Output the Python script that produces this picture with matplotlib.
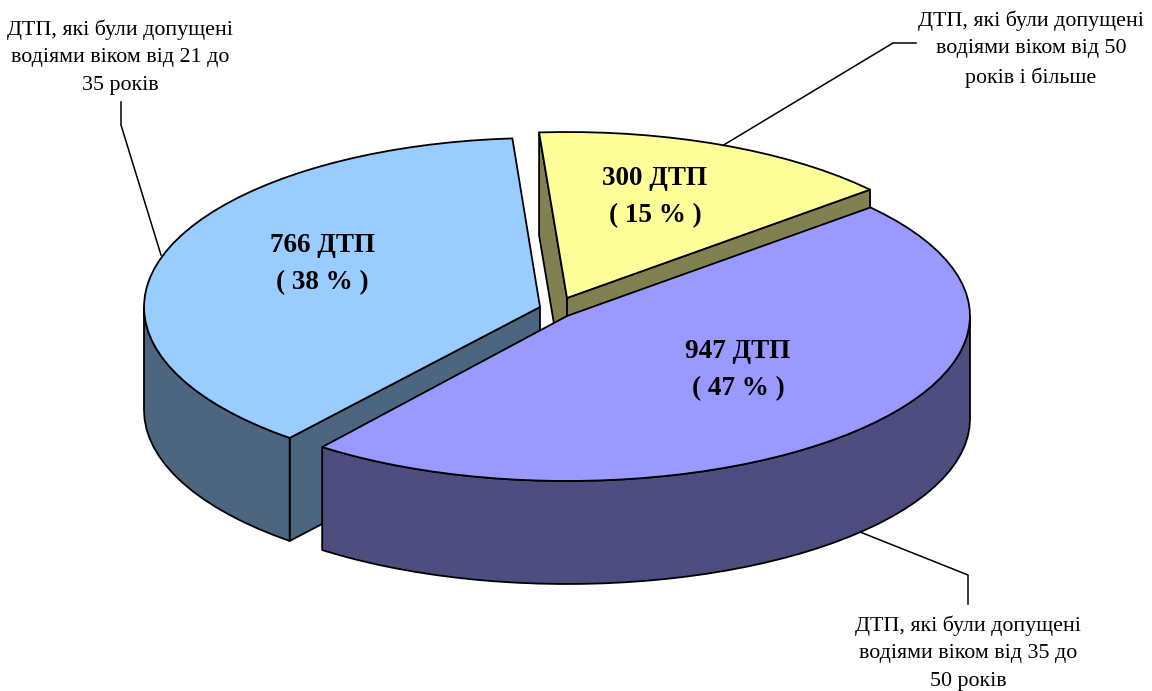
import numpy as np
import matplotlib
matplotlib.use( 'Agg' )
import matplotlib.pyplot as plt
from matplotlib.patches import Polygon

plt.rcParams['font.family'] = ['Liberation Serif', 'DejaVu Serif']

# clockwise from first slice
values = [ 300, 947, 766 ]
captions = [ "ДТП, які були допущені\nводіями віком від 50\nроків і більше",
             "ДТП, які були допущені\nводіями віком від 35 до\n50 років",
             "ДТП, які були допущені\nводіями віком від 21 до\n35 років" ]

top_colors = [ '#FFFF99', '#9999FF', '#99CCFF' ]
side_colors = [ '#808050', '#4D4D80', '#4D6680' ]

start_deg = -4.0
centers = [ ( 567, 298 ), ( 567, 316 ), ( 540, 307 ) ]
radii = [ ( 400, 166 ), ( 403, 165 ), ( 396, 169 ) ]
# small corrections of the cut angles, perspective of the original
trim_l = [ ( 0.0, -0.4 ), ( -0.8, -1.6 ), ( 0.2, 0.0 ) ]
depth = 103
lw = 1.3

label_xy = [ ( 655, 197 ), ( 738, 370 ), ( 322, 264 ) ]
caption_xy = [ ( 1031, 49 ), ( 968, 653 ), ( 120, 57 ) ]
leader_l = [ ( ( 722, 146 ), ( 893, 43 ), ( 916, 43 ) ),
             ( ( 860, 532 ), ( 968, 575 ), ( 968, 604 ) ),
             ( ( 161, 255 ), ( 121, 125 ), ( 121, 102 ) ) ]
draw_order = [ 0, 2, 1 ]


def arc( center, radius, a1, a2, dy=0 ):
    # coarse steps, the original outline is a rough polyline too
    n = max( 2, int( abs( a2 - a1 ) / 3.0 ) + 1 )
    t = np.deg2rad( np.linspace( a1, a2, n ) )
    return np.column_stack( ( center[0] + radius[0] * np.sin( t ),
                              center[1] - radius[1] * np.cos( t ) + dy ) )


def face( ax, pts, fc, z ):
    ax.add_patch( Polygon( pts, closed=True, facecolor=fc, edgecolor='k',
                           linewidth=lw, joinstyle='round', zorder=z ) )


fig = plt.figure( figsize=( 11.52, 6.91 ), dpi=100 )
ax = fig.add_axes( [ 0, 0, 1, 1 ] )
ax.set_xlim( 0, 1152 )
ax.set_ylim( 691, 0 )
ax.axis( 'off' )

total = float( sum( values ) )
edges = start_deg + np.cumsum( [ 0 ] + values ) * 360.0 / total

for k, i in enumerate( draw_order ):
    val = values[i]
    a1 = edges[i] + trim_l[i][0]
    a2 = edges[i+1] + trim_l[i][1]
    c = centers[i]
    r = radii[i]
    z = 2 + 2 * k

    # cut faces, only those turned to the viewer
    for a, sgn in ( ( a1, -1.0 ), ( a2, 1.0 ) ):
        if sgn * np.sin( np.deg2rad( a ) ) <= 0.0:
            continue
        p = arc( c, r, a, a )[0]
        face( ax, [ c, p, ( p[0], p[1] + depth ), ( c[0], c[1] + depth ) ],
              side_colors[i], z )

    # outer wall, only the part that faces the viewer
    w1 = max( a1, 90.0 )
    w2 = min( a2, 270.0 )
    if w2 > w1:
        upper = arc( c, r, w1, w2 )
        lower = arc( c, r, w2, w1, dy=depth )
        face( ax, np.vstack( ( upper, lower ) ), side_colors[i], z )

    # top
    face( ax, np.vstack( ( [ c ], arc( c, r, a1, a2 ) ) ), top_colors[i], z + 1 )

    pct = round( 100.0 * val / total )
    ax.text( label_xy[i][0], label_xy[i][1],
             "{0:} ДТП\n( {1:} % )".format( val, pct ),
             fontsize=19.5, fontweight='bold', ha='center', va='center',
             linespacing=1.63, zorder=20 )

    ax.text( caption_xy[i][0], caption_xy[i][1], captions[i],
             fontsize=15.8, ha='center', va='center', linespacing=1.6, zorder=20 )

    xs, ys = zip( *leader_l[i] )
    ax.plot( xs, ys, color='k', lw=1.1, zorder=1 )

fig.savefig( 'out.png', dpi=100 )
